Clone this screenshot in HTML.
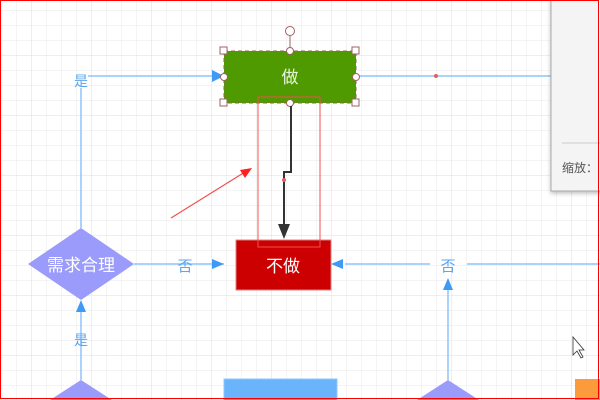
<!DOCTYPE html>
<html><head><meta charset="utf-8"><style>
html,body{margin:0;padding:0;}
body{width:600px;height:400px;overflow:hidden;position:relative;background:#fff;font-family:"Liberation Sans","Noto Sans CJK SC",sans-serif;}
</style></head><body>
<svg width="600" height="400" viewBox="0 0 600 400" xmlns="http://www.w3.org/2000/svg" style="position:absolute;left:0;top:0">
<defs>
<pattern id="g" x="1" y="10" width="15" height="15" patternUnits="userSpaceOnUse"><path d="M0 0H15M0 0V15" stroke="#eaeaea" stroke-width="1" fill="none"/></pattern>
<pattern id="G" x="31" y="55" width="60" height="60" patternUnits="userSpaceOnUse"><path d="M0 0H60M0 0V60" stroke="#dedede" stroke-width="1" fill="none"/></pattern>
<filter id="sh" x="-20%" y="-10%" width="140%" height="130%"><feDropShadow dx="0" dy="2" stdDeviation="2" flood-color="#000" flood-opacity="0.25"/></filter>
</defs>
<rect width="600" height="400" fill="url(#g)"/>
<rect width="600" height="400" fill="url(#G)"/>
<g stroke="#8fc3fb" stroke-width="1.5" fill="none">
<path d="M81 88V228"/><path d="M88 76H222"/><path d="M356 76H552"/>
<path d="M134 264H224"/><path d="M345 264H430"/><path d="M467 264H600"/>
<path d="M448 290V380"/><path d="M81 312V380"/>
</g>
<g fill="#3d9af5">
<path d="M212 70L224 76L212 82Z"/><path d="M224 264L212 259L212 269Z"/>
<path d="M331 264L343 259L343 269Z"/><path d="M448 278L443 290L453 290Z"/>
<path d="M81 300L76 312L86 312Z"/>
</g>
<circle cx="436" cy="76" r="2" fill="#e06060"/>
<rect x="224" y="51" width="132" height="52" fill="#4e9a00" stroke="#8a6a4a" stroke-dasharray="4,3"/>
<line x1="290" y1="36" x2="290" y2="51" stroke="#a06060"/>
<circle cx="290" cy="31" r="4.5" fill="#fff" stroke="#a06060"/>
<g fill="#fff" stroke="#a06060">
<rect x="220" y="47" width="7" height="7"/><rect x="352" y="47" width="7" height="7"/>
<rect x="220" y="99" width="7" height="7"/><rect x="352" y="99" width="7" height="7"/>
<circle cx="290" cy="51" r="3.5"/><circle cx="224" cy="77" r="3.5"/><circle cx="356" cy="77" r="3.5"/><circle cx="290" cy="103" r="3.5"/>
</g>
<text x="290" y="83" font-size="17" fill="#eaf5e0" text-anchor="middle">做</text>
<path d="M28 264L81 228L134 264L81 300Z" fill="#9b9bfb"/>
<text x="81" y="271" font-size="17" fill="#fff" text-anchor="middle">需求合理</text>
<path d="M50 400L81 380L112 400Z" fill="#9b9bfb"/>
<path d="M417 400L448 380L479 400Z" fill="#9b9bfb"/>
<rect x="224" y="379" width="113" height="22" fill="#6ab4fb" stroke="#8fc8fb"/>
<rect x="575" y="379" width="30" height="22" fill="#fb9b3b"/>
<rect x="236" y="240" width="95" height="50" fill="#cc0000" stroke="#e08080"/>
<text x="283" y="272" font-size="17" fill="#fff" text-anchor="middle">不做</text>
<text x="81" y="86" font-size="14" fill="#5aa6f0" text-anchor="middle">是</text>
<text x="81" y="345" font-size="14" fill="#5aa6f0" text-anchor="middle">是</text>
<text x="185" y="271" font-size="15" fill="#5aa6f0" text-anchor="middle">否</text>
<text x="448" y="271" font-size="15" fill="#5aa6f0" text-anchor="middle">否</text>
<path d="M291 106V172H284V228" stroke="#333" stroke-width="2" fill="none"/>
<path d="M278 224L284 239L290 224Z" fill="#333"/>
<circle cx="284" cy="180" r="2" fill="#e06060"/>
<rect x="258" y="97" width="62" height="150" fill="none" stroke="#f05050" stroke-width="1"/>
<line x1="171" y1="218" x2="245" y2="172" stroke="#f05050" stroke-width="1.2"/>
<path d="M252 168L240 170L245 178Z" fill="#ff2020"/>
<rect x="551" y="-2" width="52" height="193" fill="#f4f4f4" stroke="#aaa" filter="url(#sh)"/>
<line x1="562" y1="143" x2="600" y2="143" stroke="#ccc"/>
<text x="562" y="172" font-size="12" fill="#555">缩放：</text>
<path d="M573 337V355L577 351L581 358L583 357L579 350L584 350Z" fill="#fff" stroke="#333" stroke-width="0.8"/>
<rect x="0.5" y="0.5" width="598" height="398" fill="none" stroke="#ff0000" stroke-width="1"/>
</svg>
</body></html>
